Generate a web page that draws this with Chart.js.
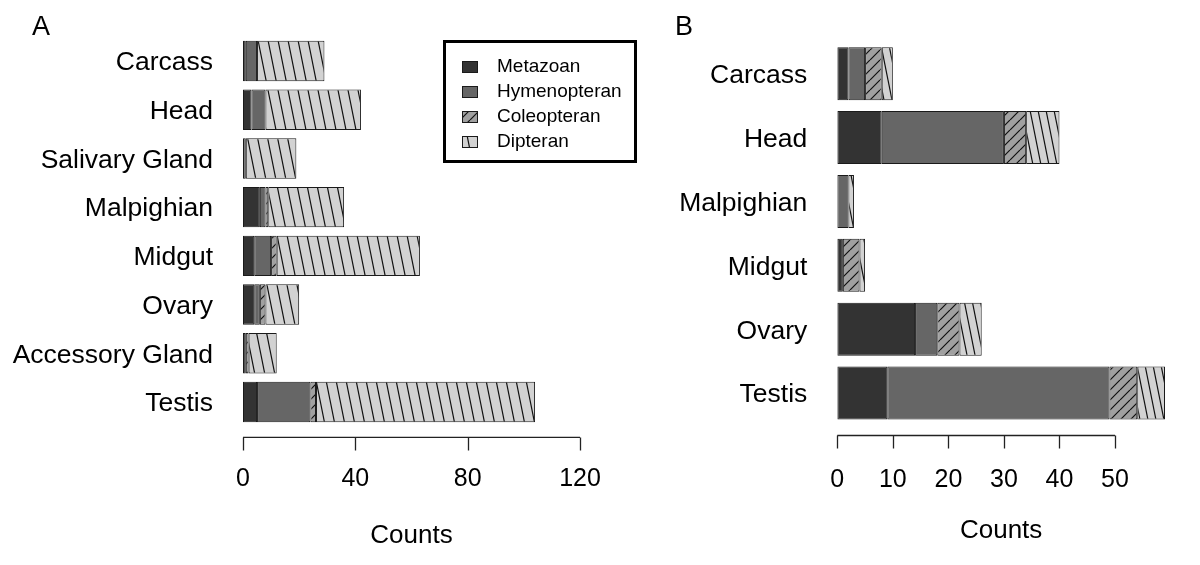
<!DOCTYPE html>
<html>
<head>
<meta charset="utf-8">
<script src="https://cdn.jsdelivr.net/npm/chart.js@4.4.1/dist/chart.umd.min.js"></script>
<style>
  html, body { margin: 0; padding: 0; background: #fff; }
  #wrap { position: relative; width: 1200px; height: 565px; overflow: hidden; font-family: "Liberation Sans", Arial, sans-serif; }
  canvas { position: absolute; top: 0; }
  #cA { left: 0; }
  #cB { left: 640px; }
  .tag { position: absolute; top: 13px; font-size: 27px; line-height: 1; color: #000; }
</style>
</head>
<body>
<div id="wrap">
  <canvas id="cA" width="640" height="565"></canvas>
  <canvas id="cB" width="560" height="565"></canvas>
  <div class="tag" style="left:32px">A</div>
  <div class="tag" style="left:675px">B</div>
</div>
<script>
// panel A: all tissues
const categoriesA = ['Carcass', 'Head', 'Salivary Gland', 'Malpighian', 'Midgut', 'Ovary', 'Accessory Gland', 'Testis'];
const metazoanA     = [1, 3, 0, 6, 4, 4, 1, 5];
const hymenopteranA = [4, 5, 1, 2, 6, 2, 0, 19];
const coleopteranA  = [0, 0, 0, 1, 2, 2, 1, 2];
const dipteranA     = [24, 34, 18, 27, 51, 12, 10, 78];
const ticksA = [0, 40, 80, 120];

// panel B
const categoriesB = ['Carcass', 'Head', 'Malpighian', 'Midgut', 'Ovary', 'Testis'];
const metazoanB     = [2, 8, 0, 1, 14, 9];
const hymenopteranB = [3, 22, 2, 0, 4, 40];
const coleopteranB  = [3, 4, 0, 3, 4, 5];
const dipteranB     = [2, 6, 1, 1, 4, 5];
const ticksB = [0, 10, 20, 30, 40, 50];

const seriesNames = ['Metazoan', 'Hymenopteran', 'Coleopteran', 'Dipteran'];
const FONT = '"Liberation Sans", Arial, sans-serif';

// hatch tiles: '/' for coleopteran, steep '\' for dipteran
function hatch(base, kind, w, h) {
  const c = document.createElement('canvas');
  c.width = w; c.height = h;
  const g = c.getContext('2d');
  g.fillStyle = base;
  g.fillRect(0, 0, w, h);
  g.strokeStyle = '#111';
  g.lineWidth = 1.2;
  g.beginPath();
  for (let k = -1; k <= 1; k++) {
    if (kind === 'up') { g.moveTo(k * w, h); g.lineTo(k * w + w, 0); }
    else { g.moveTo(k * w, 0); g.lineTo(k * w + w, h); }
  }
  g.stroke();
  return g.createPattern(c, 'repeat');
}

function makeFills(dipW) {
  return ['#333333', '#666666', hatch('#a0a0a0', 'up', 10, 10), hatch('#d2d2d2', 'down', dipW, dipW * 5)];
}

function datasets(series, fills) {
  return series.map((vals, i) => ({
    label: seriesNames[i],
    data: vals,
    backgroundColor: fills[i],
    borderColor: '#1a1a1a',
    borderWidth: 1,
    borderSkipped: false,
    categoryPercentage: 1,
    barPercentage: 0.83
  }));
}

// R-style x axis, detached below the bars
const axisLine = {
  id: 'axisLine',
  afterDraw(chart, args, opts) {
    const x = chart.scales.x, ctx = chart.ctx;
    const y = chart.chartArea.bottom + opts.gap;
    const vals = x.ticks.map(t => t.value);
    ctx.save();
    ctx.strokeStyle = '#222';
    ctx.lineWidth = 1.3;
    ctx.beginPath();
    ctx.moveTo(x.getPixelForValue(vals[0]), y);
    ctx.lineTo(x.getPixelForValue(vals[vals.length - 1]), y);
    vals.forEach(v => {
      const px = Math.round(x.getPixelForValue(v)) + 0.5;
      ctx.moveTo(px, y);
      ctx.lineTo(px, y + 13);
    });
    ctx.stroke();
    ctx.restore();
  }
};

const boxLegend = {
  id: 'boxLegend',
  afterDraw(chart, args, opts) {
    if (!opts.show) return;
    const ctx = chart.ctx;
    ctx.save();
    ctx.lineWidth = 3;
    ctx.strokeStyle = '#000';
    ctx.strokeRect(444.5, 41.5, 191, 120);
    ctx.font = '19px ' + FONT;
    ctx.textBaseline = 'middle';
    chart.data.datasets.forEach((ds, i) => {
      const cy = 67 + i * 25;
      ctx.fillStyle = ds.backgroundColor;
      ctx.fillRect(462, cy - 6, 16, 12);
      ctx.lineWidth = 1;
      ctx.strokeStyle = '#1a1a1a';
      ctx.strokeRect(462.5, cy - 5.5, 15, 11);
      ctx.fillStyle = '#000';
      ctx.fillText(ds.label, 497, cy);
    });
    ctx.restore();
  }
};

function build(id, cats, series, tickVals, xmax, cfg) {
  const ctx = document.getElementById(id).getContext('2d');
  return new Chart(ctx, {
    type: 'bar',
    data: { labels: cats, datasets: datasets(series, makeFills(cfg.dipW)) },
    options: {
      indexAxis: 'y',
      responsive: false,
      animation: false,
      events: [],
      layout: { padding: { top: cfg.top, right: cfg.right, left: 0, bottom: 0 } },
      plugins: {
        legend: { display: false },
        tooltip: { enabled: false },
        axisLine: { gap: cfg.gap },
        boxLegend: { show: cfg.legend }
      },
      scales: {
        y: {
          stacked: true,
          grid: { display: false, drawTicks: false },
          border: { display: false },
          ticks: { color: '#000', padding: 30, labelOffset: 2, font: { family: FONT, size: 26.5 } },
          afterFit: s => { s.width = cfg.left; s.paddingTop = 0; s.paddingBottom = 0; }
        },
        x: {
          stacked: true,
          min: 0,
          max: xmax,
          grid: { display: false, drawTicks: false },
          border: { display: false },
          afterBuildTicks: s => { s.ticks = tickVals.map(v => ({ value: v })); },
          ticks: { color: '#000', padding: cfg.tickPad, maxRotation: 0, autoSkip: false, font: { family: FONT, size: 25 } },
          title: { display: true, text: 'Counts', color: '#000', font: { family: FONT, size: 26 }, padding: { top: 0, bottom: cfg.titlePad } },
          afterFit: s => { s.height = cfg.bottomH; s.paddingLeft = 0; s.paddingRight = 0; }
        }
      }
    },
    plugins: [axisLine, boxLegend]
  });
}

build('cA', categoriesA, [metazoanA, hymenopteranA, coleopteranA, dipteranA], ticksA, 120,
  { left: 243, right: 60, top: 36.6, bottomH: 138.6, gap: 11, tickPad: 38, titlePad: 14, dipW: 10, legend: true });
build('cB', categoriesB, [metazoanB, hymenopteranB, coleopteranB, dipteranB], ticksB, 59,
  { left: 197.3, right: 35, top: 41.8, bottomH: 140, gap: 10.5, tickPad: 40, titlePad: 19, dipW: 8, legend: false });
</script>
</body>
</html>
